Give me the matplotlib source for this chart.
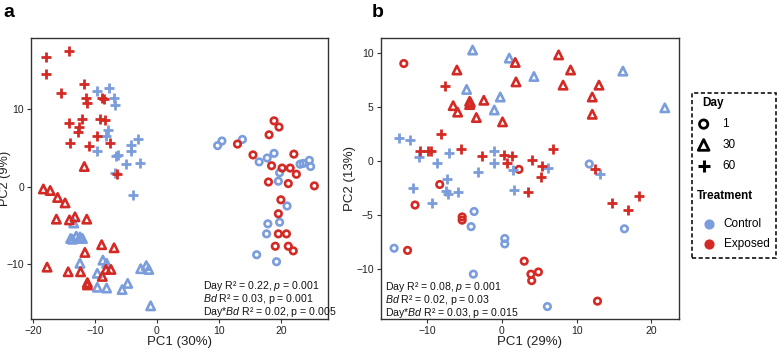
import matplotlib
matplotlib.use("Agg")
import matplotlib.pyplot as plt
from matplotlib.patches import Rectangle

plt.rcParams['font.family'] = ['Liberation Sans', 'DejaVu Sans']
plt.rcParams['mathtext.fontset'] = 'custom'
plt.rcParams['mathtext.rm'] = 'Liberation Sans'
plt.rcParams['mathtext.it'] = 'Liberation Sans:italic'

BLUE = "#7b9ddc"
RED = "#d42a25"

# ---- panel a : PC1 (30%) / PC2 (9%) ----
a_d1_ctrl_x = [9.8, 10.5, 13.8, 18.9, 16.5, 17.8, 19.8, 19.6, 23.1, 23.6, 24.6, 24.8, 21.0, 19.8, 17.9, 17.7, 16.1, 19.3]
a_d1_ctrl_y = [5.3, 5.9, 6.1, 4.3, 3.2, 3.7, 1.8, 0.7, 2.9, 3.0, 3.4, 2.6, -2.5, -4.6, -4.8, -6.1, -8.8, -9.7]
a_d1_exp_x = [18.9, 19.7, 18.1, 13.0, 15.5, 22.1, 18.5, 20.2, 21.5, 22.5, 18.0, 21.2, 25.4, 20.0, 19.6, 19.6, 20.9, 19.1, 21.2, 22.0]
a_d1_exp_y = [8.5, 7.7, 6.7, 5.5, 4.1, 4.2, 2.7, 2.4, 2.4, 1.6, 0.6, 0.4, 0.1, -1.7, -3.5, -6.1, -6.1, -7.7, -7.7, -8.3]

a_d30_ctrl_x = [-13.4, -13.9, -13.0, -12.4, -12.0, -13.6, -12.4, -9.6, -8.7, -8.1, -9.6, -8.1, -5.6, -4.7, -2.6, -1.7, -1.3, -1.0]
a_d30_ctrl_y = [-4.7, -6.7, -6.4, -6.5, -6.7, -6.8, -9.9, -11.2, -9.5, -9.9, -13.0, -13.1, -13.3, -12.5, -10.6, -10.2, -10.7, -15.4]
a_d30_exp_x = [-11.7, -18.3, -17.2, -16.0, -14.8, -16.2, -14.1, -13.2, -11.3, -11.6, -8.9, -6.9, -17.7, -14.3, -12.3, -11.2, -11.2, -8.8, -8.2, -7.4]
a_d30_exp_y = [2.6, -0.3, -0.5, -1.4, -2.1, -4.2, -4.3, -3.9, -4.2, -8.5, -7.5, -7.9, -10.4, -11.0, -11.0, -12.4, -12.7, -11.6, -10.7, -10.7]

a_d60_ctrl_x = [-9.6, -7.7, -6.9, -6.8, -7.9, -8.2, -9.6, -4.2, -3.1, -4.1, -6.6, -6.3, -4.9, -2.7, -6.8, -3.8]
a_d60_ctrl_y = [12.4, 12.8, 11.5, 10.5, 7.3, 6.5, 4.6, 5.4, 6.2, 4.6, 3.9, 4.1, 2.9, 3.0, 1.7, -1.1]
a_d60_exp_x = [-17.9, -14.2, -17.8, -11.8, -15.5, -11.5, -11.2, -8.8, -8.6, -12.1, -9.2, -8.4, -14.1, -12.6, -12.7, -9.7, -14.0, -7.6, -11.0, -6.5]
a_d60_exp_y = [16.8, 17.5, 14.5, 13.3, 12.1, 11.4, 10.8, 11.5, 11.3, 8.8, 8.8, 8.6, 8.2, 7.7, 7.1, 6.5, 5.6, 5.6, 5.2, 1.6]

# ---- panel b : PC1 (29%) / PC2 (13%) ----
b_d1_ctrl_x = [-3.7, -4.1, -14.4, 0.4, 0.4, -3.8, 11.7, 16.4, 6.1]
b_d1_ctrl_y = [-4.7, -6.1, -8.1, -7.2, -7.7, -10.5, -0.3, -6.3, -13.5]
b_d1_exp_x = [-13.1, 2.3, -8.3, -11.6, -5.3, -5.3, -12.6, 3.0, 3.9, 4.0, 4.9, 12.8]
b_d1_exp_y = [9.0, -0.8, -2.2, -4.1, -5.2, -5.5, -8.3, -9.3, -10.5, -11.1, -10.3, -13.0]

b_d30_ctrl_x = [-3.9, -4.7, -0.2, -1.0, 1.0, 4.3, 16.2, 21.8]
b_d30_ctrl_y = [10.25, 6.6, 5.9, 4.7, 9.5, 7.8, 8.3, 4.9]
b_d30_exp_x = [-6.0, -6.5, -5.9, -4.3, -4.3, -4.2, -2.4, -3.4, 0.1, 1.8, 1.9, 7.6, 9.2, 8.2, 13.0, 12.1, 12.1]
b_d30_exp_y = [8.4, 5.1, 4.5, 5.5, 5.2, 5.4, 5.6, 4.0, 3.6, 9.1, 7.3, 9.8, 8.4, 7.0, 7.0, 5.9, 4.3]

b_d60_ctrl_x = [-13.8, -12.3, -11.1, -7.0, -8.7, -1.0, -1.0, -3.2, -7.3, 1.5, -11.9, -7.4, -5.9, -7.2, -9.3, 6.2, 13.1, 1.7]
b_d60_ctrl_y = [2.1, 1.9, 0.35, 0.7, -0.25, 0.9, -0.25, -1.0, -1.65, -0.9, -2.5, -2.8, -2.9, -3.1, -3.9, -0.7, -1.2, -2.7]
b_d60_exp_x = [-7.6, -8.1, -11.0, -9.9, -9.4, -5.4, -2.7, 0.3, 1.4, 0.7, 6.8, 4.1, 5.4, 5.3, 12.5, 3.5, 14.8, 18.3, 16.9]
b_d60_exp_y = [6.9, 2.5, 0.9, 0.9, 0.9, 1.1, 0.4, 0.5, 0.45, -0.2, 1.05, 0.05, -0.5, -1.5, -0.8, -2.9, -3.9, -3.3, -4.6]

stats_a = ["Day R\u00b2 = 0.22, $\\it{p}$ = 0.001",
           "$\\it{Bd}$ R\u00b2 = 0.03, p = 0.001",
           "Day*$\\it{Bd}$ R\u00b2 = 0.02, p = 0.005"]
stats_b = ["Day R\u00b2 = 0.08, $\\it{p}$ = 0.001",
           "$\\it{Bd}$ R\u00b2 = 0.02, p = 0.03",
           "Day*$\\it{Bd}$ R\u00b2 = 0.03, p = 0.015"]


def draw_points(ax, groups):
    for x, y, marker, color in groups:
        if marker == '+':
            ax.scatter(x, y, marker='+', s=50, color=color, linewidths=2.0, zorder=3)
        else:
            size = 22 if marker == 'o' else 36
            ax.scatter(x, y, marker=marker, s=size, facecolors='none',
                       edgecolors=color, linewidths=1.9, zorder=3)


def style_axes(ax):
    for sp in ax.spines.values():
        sp.set_linewidth(1.0)
        sp.set_color("#333333")
    ax.tick_params(direction='out', length=3, width=0.8, labelsize=7.5,
                   colors="#333333", labelcolor="#222222", pad=2)


fig = plt.figure(figsize=(7.8, 3.49), dpi=100)
ax1 = fig.add_axes([0.0397, 0.086, 0.3808, 0.805])
ax2 = fig.add_axes([0.488, 0.086, 0.3825, 0.805])

draw_points(ax1, [
    (a_d1_ctrl_x, a_d1_ctrl_y, 'o', BLUE), (a_d1_exp_x, a_d1_exp_y, 'o', RED),
    (a_d30_ctrl_x, a_d30_ctrl_y, '^', BLUE), (a_d30_exp_x, a_d30_exp_y, '^', RED),
    (a_d60_ctrl_x, a_d60_ctrl_y, '+', BLUE), (a_d60_exp_x, a_d60_exp_y, '+', RED),
])
draw_points(ax2, [
    (b_d1_ctrl_x, b_d1_ctrl_y, 'o', BLUE), (b_d1_exp_x, b_d1_exp_y, 'o', RED),
    (b_d30_ctrl_x, b_d30_ctrl_y, '^', BLUE), (b_d30_exp_x, b_d30_exp_y, '^', RED),
    (b_d60_ctrl_x, b_d60_ctrl_y, '+', BLUE), (b_d60_exp_x, b_d60_exp_y, '+', RED),
])

ax1.set_xlim(-20.3, 27.6)
ax1.set_ylim(-17.1, 19.2)
ax1.set_xticks([-20, -10, 0, 10, 20])
ax1.set_yticks([-10, 0, 10])
ax1.set_xlabel("PC1 (30%)", fontsize=9.5, color="#222222")
ax1.set_ylabel("PC2 (9%)", fontsize=9.2, color="#222222")
ax1.xaxis.set_label_coords(0.5, -0.06)
ax1.yaxis.set_label_coords(-0.066, 0.5)
style_axes(ax1)

ax2.set_xlim(-16.2, 23.7)
ax2.set_ylim(-14.65, 11.36)
ax2.set_xticks([-10, 0, 10, 20])
ax2.set_yticks([-10, -5, 0, 5, 10])
ax2.set_xlabel("PC1 (29%)", fontsize=9.5, color="#222222")
ax2.set_ylabel("PC2 (13%)", fontsize=9.5, color="#222222")
ax2.xaxis.set_label_coords(0.5, -0.06)
ax2.yaxis.set_label_coords(-0.082, 0.5)
style_axes(ax2)

for i, line in enumerate(stats_a):
    ax1.text(0.578, 0.118 - i * 0.047, line, transform=ax1.transAxes,
             fontsize=7.6, color="#111111", va='center', ha='left')
for i, line in enumerate(stats_b):
    ax2.text(0.013, 0.114 - i * 0.046, line, transform=ax2.transAxes,
             fontsize=7.6, color="#111111", va='center', ha='left')

fig.text(0.004, 0.965, "a", fontsize=14, fontweight='bold', va='center')
fig.text(0.477, 0.965, "b", fontsize=14, fontweight='bold', va='center')

# legend panel
lg = fig.add_axes([0.887, 0.258, 0.108, 0.477])
lg.set_xlim(0, 1)
lg.set_ylim(0, 1)
lg.axis('off')
lg.add_patch(Rectangle((0.005, 0.005), 0.99, 0.99, transform=lg.transAxes,
                       fill=False, linestyle=(0, (2.5, 1.5)), linewidth=1.2,
                       edgecolor="#111111", clip_on=False))
lg.text(0.12, 0.935, "Day", fontsize=8.5, fontweight='bold', va='center')
day_labels = ["1", "30", "60"]
day_markers = ['o', '^', '+']
for i, (lab, mk) in enumerate(zip(day_labels, day_markers)):
    yy = 0.81 - i * 0.125
    if mk == '+':
        lg.scatter([0.14], [yy], marker='+', s=70, color='black', linewidths=2.2)
    else:
        lg.scatter([0.14], [yy], marker=mk, s=36 if mk == 'o' else 60,
                   facecolors='none', edgecolors='black', linewidths=2.0)
    lg.text(0.36, yy, lab, fontsize=8.5, va='center')
lg.text(0.06, 0.38, "Treatment", fontsize=8.5, fontweight='bold', va='center')
treat_labels = ["Control", "Exposed"]
treat_colors = [BLUE, RED]
for i, (lab, col) in enumerate(zip(treat_labels, treat_colors)):
    yy = 0.21 - i * 0.12
    lg.scatter([0.2], [yy], marker='o', s=40, color=col)
    lg.text(0.38, yy, lab, fontsize=8.5, va='center')

fig.savefig("out.png", dpi=100)
